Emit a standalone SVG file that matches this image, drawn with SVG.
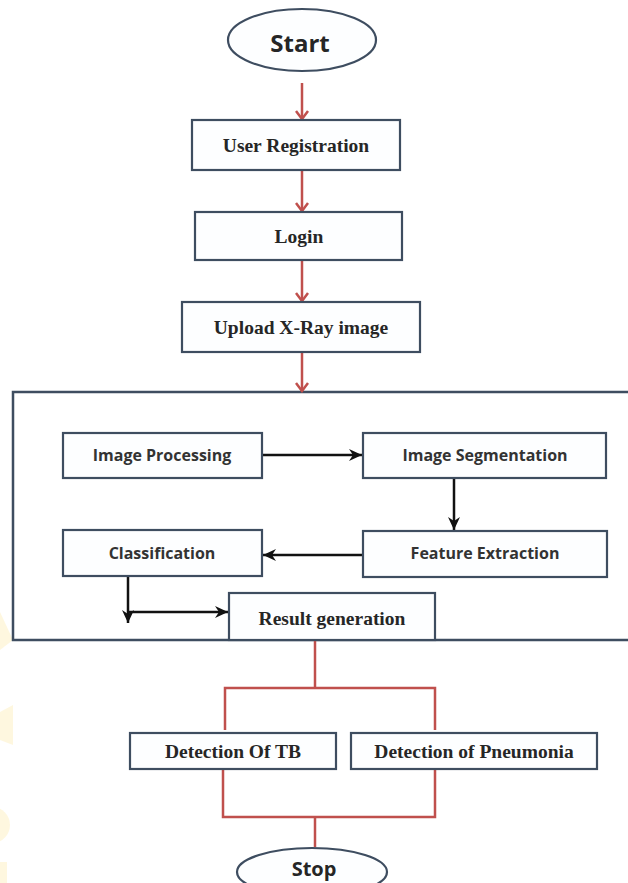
<svg xmlns="http://www.w3.org/2000/svg" width="628" height="883" viewBox="0 0 628 883">
  <defs>
    <style>
      .box { fill: #fdfeff; stroke: #3e4d60; stroke-width: 2.2; }
      .term { fill: #fdfeff; stroke: #3e4d60; stroke-width: 2.2; }
      .serif { font-family: "Liberation Serif", "DejaVu Serif", serif; font-weight: bold; font-size: 19.5px; fill: #262626; text-anchor: middle; }
      .sans { font-family: "Open Sans", "Liberation Sans", sans-serif; font-weight: bold; font-size: 16px; fill: #333333; text-anchor: middle; }
      .termtext { font-family: "Open Sans", "Liberation Sans", sans-serif; font-weight: bold; font-size: 24px; fill: #262626; text-anchor: middle; }
      .red { stroke: #c0504d; stroke-width: 2.5; fill: none; }
      .blk { stroke: #111111; stroke-width: 2.5; fill: none; }
      .wm { fill: #fdedb8; opacity: 0.45; }
    </style>
    <marker id="redArrow" markerUnits="userSpaceOnUse" markerWidth="14" markerHeight="14" refX="12" refY="7" orient="auto" viewBox="0 0 14 14">
      <path d="M4,1 L12,7 L4,13" fill="none" stroke="#c0504d" stroke-width="2.5"/>
    </marker>
    <marker id="blkArrow" markerUnits="userSpaceOnUse" markerWidth="14" markerHeight="14" refX="13" refY="7" orient="auto" viewBox="0 0 14 14">
      <path d="M0,1 L13,7 L0,13 L4,7 Z" fill="#111111"/>
    </marker>
  </defs>

  <rect width="628" height="883" fill="#ffffff"/>

  <!-- faint watermark fragments at left edge -->
  <g id="watermark">
    <path class="wm" d="M0,612 L13,640 L0,650 Z"/>
    <path class="wm" d="M0,712 L13,705 L13,745 L0,740 Z"/>
    <circle class="wm" cx="-8" cy="825" r="18"/>
    <path class="wm" d="M0,862 L7,862 L7,883 L0,883 Z"/>
  </g>

  <g id="container">
    <rect x="13" y="392" width="640" height="248" fill="#ffffff" stroke="#3e4d60" stroke-width="2.5"/>
  </g>

  <g id="connectors">
    <line class="red" x1="302" y1="83" x2="302" y2="119" marker-end="url(#redArrow)"/>
    <line class="red" x1="302" y1="171" x2="302" y2="211" marker-end="url(#redArrow)"/>
    <line class="red" x1="302" y1="261" x2="302" y2="301" marker-end="url(#redArrow)"/>
    <line class="red" x1="302" y1="353" x2="302" y2="391" marker-end="url(#redArrow)"/>

    <line class="blk" x1="262" y1="455" x2="362" y2="455" marker-end="url(#blkArrow)"/>
    <line class="blk" x1="454" y1="479" x2="454" y2="530" marker-end="url(#blkArrow)"/>
    <line class="blk" x1="363" y1="555" x2="263" y2="555" marker-end="url(#blkArrow)"/>
    <line class="blk" x1="128" y1="577" x2="128" y2="623" marker-end="url(#blkArrow)"/>
    <line class="blk" x1="128" y1="612" x2="228" y2="612" marker-end="url(#blkArrow)"/>

    <polyline class="red" points="315,641 315,688"/>
    <polyline class="red" points="225,730 225,688 435,688 435,730"/>
    <polyline class="red" points="223,770 223,817 435,817 435,770"/>
    <polyline class="red" points="315,817 315,847"/>
  </g>

  <g id="start">
    <ellipse class="term" cx="302" cy="40" rx="74" ry="31"/>
    <text class="termtext" x="300" y="52">Start</text>
  </g>

  <g id="user-registration">
    <rect class="box" x="192" y="120" width="208" height="50"/>
    <text class="serif" x="296" y="152">User Registration</text>
  </g>

  <g id="login">
    <rect class="box" x="195" y="212" width="207" height="48"/>
    <text class="serif" x="299" y="243">Login</text>
  </g>

  <g id="upload">
    <rect class="box" x="182" y="302" width="238" height="50"/>
    <text class="serif" x="301" y="334">Upload X-Ray image</text>
  </g>

  <g id="image-processing">
    <rect class="box" x="63" y="433" width="199" height="45"/>
    <text class="sans" x="162" y="461">Image Processing</text>
  </g>

  <g id="image-segmentation">
    <rect class="box" x="363" y="433" width="243" height="45"/>
    <text class="sans" x="485" y="461">Image Segmentation</text>
  </g>

  <g id="feature-extraction">
    <rect class="box" x="363" y="531" width="244" height="46"/>
    <text class="sans" x="485" y="559">Feature Extraction</text>
  </g>

  <g id="classification">
    <rect class="box" x="63" y="530" width="199" height="46"/>
    <text class="sans" x="162" y="559">Classification</text>
  </g>

  <g id="result-generation">
    <rect class="box" x="229" y="593" width="206" height="47"/>
    <text class="serif" x="332" y="625">Result generation</text>
  </g>

  <g id="detection-tb">
    <rect class="box" x="130" y="733" width="206" height="36"/>
    <text class="serif" x="233" y="758">Detection Of TB</text>
  </g>

  <g id="detection-pneumonia">
    <rect class="box" x="351" y="733" width="246" height="36"/>
    <text class="serif" x="474" y="758">Detection of Pneumonia</text>
  </g>

  <g id="stop">
    <ellipse class="term" cx="312" cy="872" rx="75" ry="24"/>
    <text class="termtext" x="314" y="876" style="font-size:20px">Stop</text>
  </g>
</svg>
